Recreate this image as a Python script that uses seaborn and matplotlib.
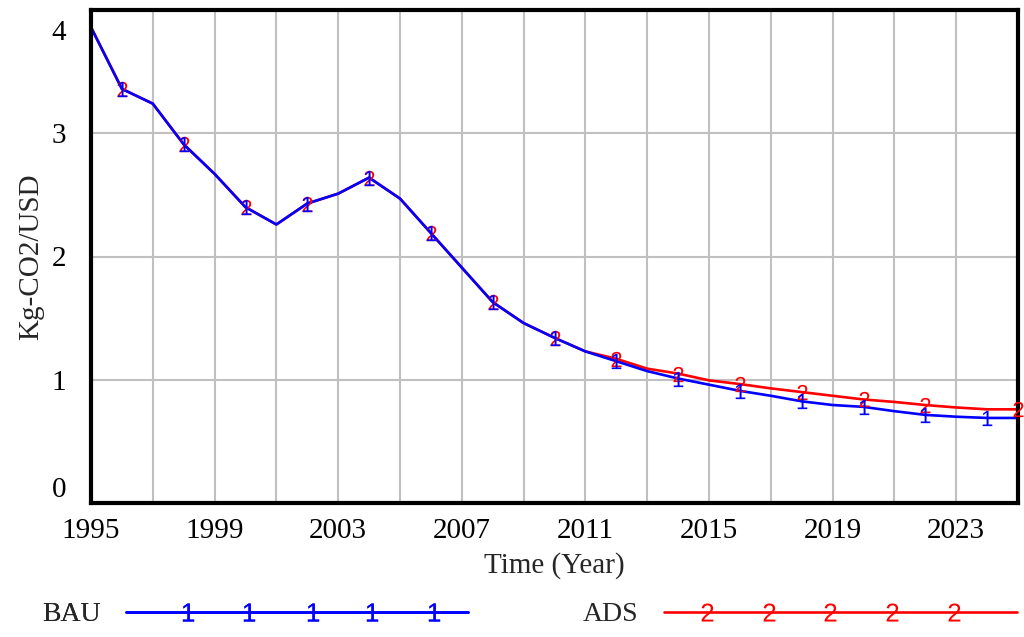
import numpy as np
import pandas as pd
import seaborn as sns
import matplotlib.pyplot as plt
from matplotlib.legend_handler import HandlerLine2D
from matplotlib.lines import Line2D
from matplotlib.transforms import ScaledTranslation

# data (Kg-CO2/USD per year)
years = list(range(1995, 2026))
bau = [3.86, 3.36, 3.24, 2.91, 2.67, 2.40, 2.26, 2.43, 2.51, 2.64,
       2.47, 2.19, 1.91, 1.63, 1.46, 1.34, 1.23, 1.15, 1.07, 1.01,
       0.96, 0.91, 0.87, 0.825, 0.795, 0.78, 0.745, 0.715, 0.70, 0.69, 0.69]
ads = [3.86, 3.36, 3.24, 2.91, 2.67, 2.40, 2.26, 2.43, 2.51, 2.64,
       2.47, 2.19, 1.91, 1.63, 1.46, 1.34, 1.23, 1.17, 1.09, 1.05,
       0.995, 0.965, 0.93, 0.90, 0.87, 0.84, 0.82, 0.795, 0.775, 0.76, 0.76]
bau_marks = list(range(1996, 2025, 2))
ads_marks = list(range(1996, 2023, 2)) + [2025]
xticks = list(range(1995, 2026, 2))
xlabels = [str(y) if (y - 1995) % 4 == 0 else '' for y in xticks]
yticks = [0, 1, 2, 3, 4]

sns.set_style('white')
plt.rcParams['font.family'] = ['Liberation Serif', 'DejaVu Serif']
plt.rcParams['mathtext.fontset'] = 'custom'
plt.rcParams['mathtext.rm'] = 'Liberation Sans'
plt.rcParams['mathtext.it'] = 'Liberation Sans'

df = pd.DataFrame({'Year': years, 'BAU': bau, 'ADS': ads})

fig = plt.figure(figsize=(10.24, 6.37), dpi=100)
ax = fig.add_axes([91/1024, 1 - 503/637, 927/1024, 493/637])

sns.lineplot(data=df, x='Year', y='ADS', color='#ff0000', lw=1.9, ax=ax)
sns.lineplot(data=df, x='Year', y='BAU', color='#0000ff', lw=1.9, ax=ax)

d = df.set_index('Year')
ax.plot(ads_marks, d.loc[ads_marks, 'ADS'], ls='none', marker='$2$',
        ms=11, mew=0, color='#ff0000', clip_on=False, zorder=5)
ax.plot(bau_marks, d.loc[bau_marks, 'BAU'], ls='none', marker='$1$',
        ms=11, mew=0, color='#0000ff', clip_on=False, zorder=6)

ax.set_xlim(1995, 2025)
ax.set_ylim(0, 4)
ax.set_xticks(xticks)
ax.set_xticklabels(xlabels)
ax.set_yticks(yticks)
ax.set_yticklabels([str(v) for v in yticks])
ax.tick_params(axis='both', length=0, labelsize=21, colors='black')
ax.tick_params(axis='x', pad=11)
ax.tick_params(axis='y', pad=18)
labs = ax.get_yticklabels()
labs[0].set_va('bottom')
labs[-1].set_va('top')
labs[-1].set_transform(labs[-1].get_transform() +
                       ScaledTranslation(0, -7/72, fig.dpi_scale_trans))

ax.grid(True, color='#c0c0c0', lw=1.5)
for s in ax.spines.values():
    s.set_visible(True)
    s.set_color('black')
    s.set_linewidth(3)

ax.set_xlabel('Time (Year)', fontsize=21)
ax.set_ylabel('Kg-CO2/USD', fontsize=21)
ax.xaxis.set_label_coords(0.5, -0.1)
ax.yaxis.set_label_coords(-0.05, 0.5)


class SpacedMarks(HandlerLine2D):
    # full-width line with the number marks spread along it
    def __init__(self, fracs, **kw):
        super().__init__(**kw)
        self.fracs = np.array(fracs)

    def create_artists(self, legend, orig_handle, xdescent, ydescent,
                       width, height, fontsize, trans):
        y = (height - ydescent) / 2
        line = Line2D([-xdescent, -xdescent + width], [y, y])
        self.update_prop(line, orig_handle, legend)
        line.set_marker('none')
        xm = -xdescent + width * self.fracs
        marks = Line2D(xm, np.full_like(xm, y))
        self.update_prop(marks, orig_handle, legend)
        marks.set_linestyle('none')
        line.set_transform(trans)
        marks.set_transform(trans)
        return [line, marks]


h_bau = Line2D([], [], color='#0000ff', lw=1.9, marker='$1$', ms=13, mew=0)
h_ads = Line2D([], [], color='#ff0000', lw=1.9, marker='$2$', ms=13, mew=0)

leg1 = fig.legend([h_bau], ['BAU'], loc='center left',
                  bbox_to_anchor=(42/1024, 0.035), frameon=False,
                  markerfirst=False, fontsize=20, handlelength=12.3,
                  handletextpad=0.93, borderpad=0, borderaxespad=0,
                  handler_map={h_bau: SpacedMarks([0.18, 0.36, 0.545, 0.72, 0.9])})
leg2 = fig.legend([h_ads], ['ADS'], loc='center left',
                  bbox_to_anchor=(583/1024, 0.035), frameon=False,
                  markerfirst=False, fontsize=20, handlelength=12.7,
                  handletextpad=0.93, borderpad=0, borderaxespad=0,
                  handler_map={h_ads: SpacedMarks([0.12, 0.295, 0.47, 0.645, 0.82])})
fig.add_artist(leg1)

fig.savefig('out.png', dpi=100)
